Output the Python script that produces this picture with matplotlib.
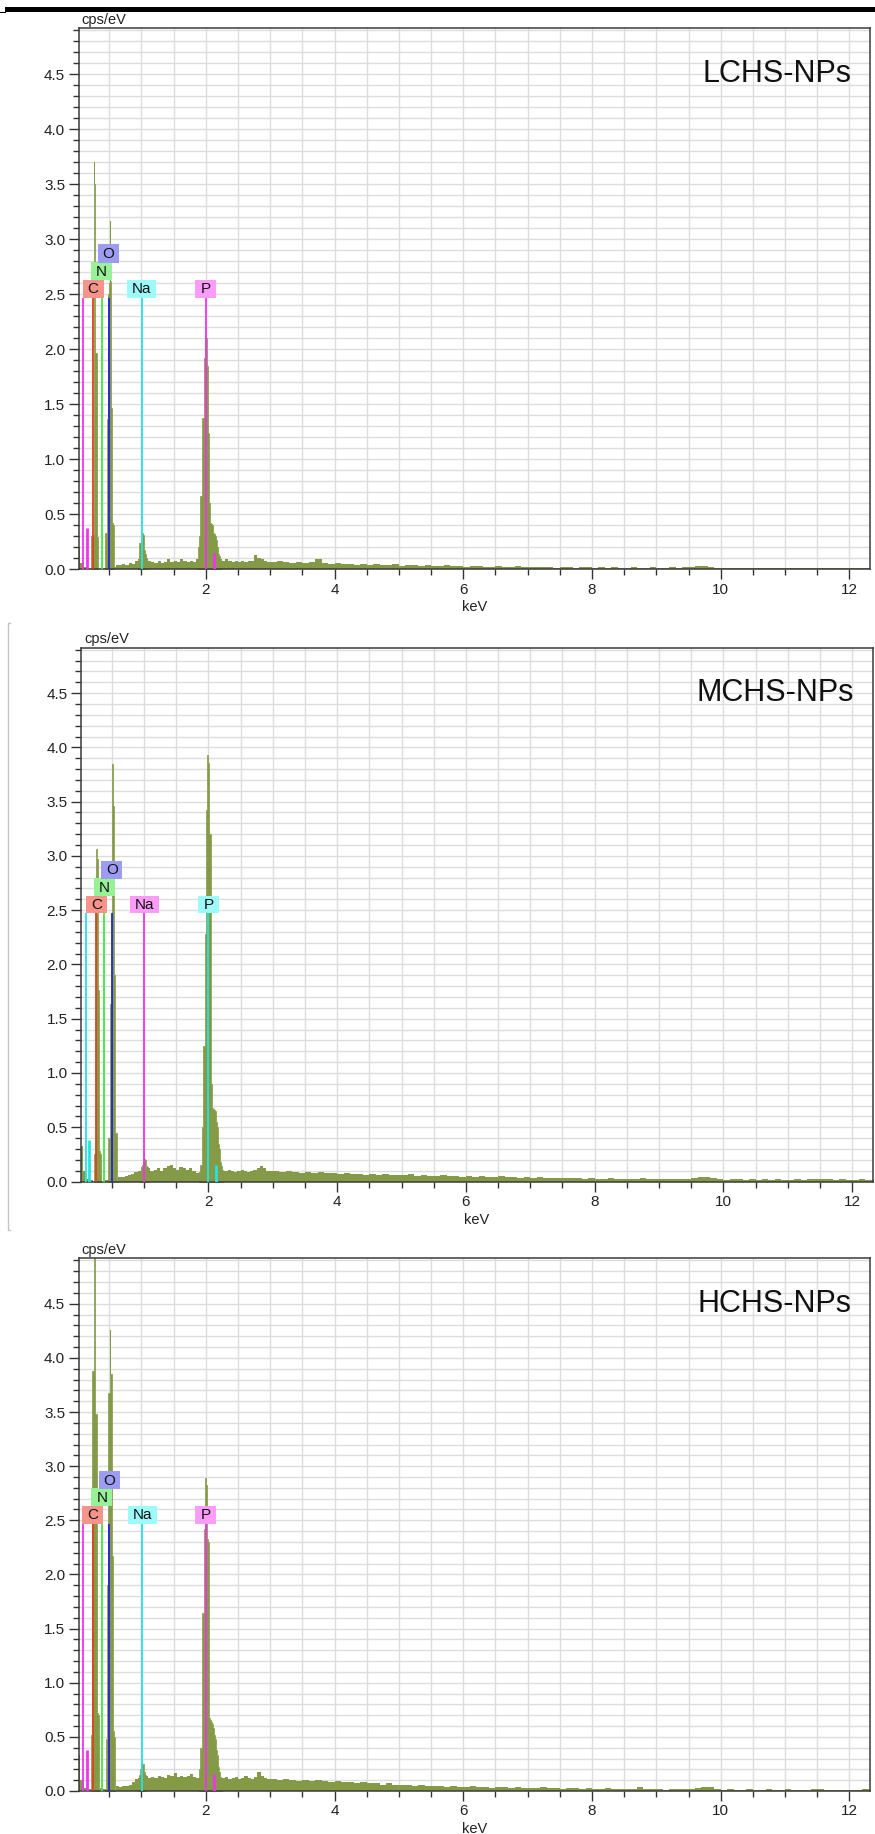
import numpy as np
import matplotlib
matplotlib.use('Agg')
import matplotlib.pyplot as plt
from matplotlib.patches import Rectangle
from matplotlib.lines import Line2D
from matplotlib.ticker import MultipleLocator, FormatStrFormatter

plt.rcParams['font.family'] = ['Liberation Sans', 'DejaVu Sans']

samples = ['LCHS-NPs', 'MCHS-NPs', 'HCHS-NPs']

# channel energies of the background trace (keV)
kev_low = np.arange(60) * 0.05          # 0.00 .. 2.95
kev_high = 3.0 + np.arange(94) * 0.1    # 3.0 .. 12.3

# ---- LCHS-NPs spectrum (cps/eV) ----
lchs_bg_low = [0.20, 0.06, 0.02, 0.01, 0.00, 0.00, 0.00, 0.01, 0.01, 0.00,
               0.00, 0.02, 0.04, 0.04, 0.05, 0.04, 0.06, 0.05, 0.08, 0.09,
               0.09, 0.09, 0.08, 0.07, 0.06, 0.08, 0.06, 0.07, 0.09, 0.07,
               0.08, 0.07, 0.09, 0.08, 0.07, 0.08, 0.07, 0.09, 0.09, 0.09,
               0.09, 0.09, 0.09, 0.09, 0.09, 0.08, 0.09, 0.08, 0.07, 0.08,
               0.07, 0.08, 0.07, 0.08, 0.08, 0.13, 0.10, 0.09, 0.08, 0.07]
lchs_bg_high = [0.07, 0.08, 0.07, 0.06, 0.07, 0.06, 0.07, 0.09, 0.06, 0.05,
                0.06, 0.05, 0.05, 0.04, 0.05, 0.04, 0.05, 0.04, 0.04, 0.05,
                0.03, 0.04, 0.04, 0.03, 0.04, 0.03, 0.03, 0.04, 0.03, 0.03,
                0.02, 0.03, 0.03, 0.02, 0.02, 0.03, 0.02, 0.02, 0.03, 0.02,
                0.02, 0.02, 0.02, 0.02, 0.01, 0.02, 0.02, 0.01, 0.02, 0.02,
                0.01, 0.02, 0.01, 0.02, 0.01, 0.01, 0.02, 0.01, 0.01, 0.02,
                0.01, 0.01, 0.02, 0.01, 0.02, 0.02, 0.03, 0.03, 0.02, 0.01,
                0.01, 0.01, 0.01, 0.01, 0.01, 0.01, 0.01, 0.01, 0.01, 0.01,
                0.01, 0.01, 0.01, 0.01, 0.01, 0.01, 0.01, 0.01, 0.01, 0.01,
                0.01, 0.01, 0.01, 0.01]
# peaks: (first channel keV, counts in 0.01 keV channels)
lchs_peaks = [
    (0.21, [0.00, 0.30, 0.30, 0.31, 0.31, 3.70, 3.50, 3.50, 1.97, 1.97, 0.30, 0.29, 0.00]),
    (0.43, [0.00, 0.33, 0.33, 0.33, 1.37, 1.37, 2.50, 2.60, 3.17, 2.62, 1.47, 1.47, 0.42, 0.42, 0.40, 0.00]),
    (0.95, [0.00, 0.14, 0.24, 0.24, 0.24, 0.24, 0.32, 0.33, 0.31, 0.25, 0.18, 0.14, 0.12, 0.10, 0.00]),
    (1.87, [0.00, 0.12, 0.20, 0.30, 0.30, 0.67, 0.67, 0.67, 1.38, 1.38, 1.92, 1.92, 1.90, 2.12,
            2.10, 1.87, 1.85, 1.24, 1.22, 0.60, 0.42, 0.42, 0.41, 0.40, 0.35, 0.33, 0.33, 0.32,
            0.30, 0.27, 0.27, 0.20, 0.15, 0.14, 0.12, 0.10, 0.00]),
]

# ---- MCHS-NPs spectrum ----
mchs_bg_low = [0.33, 0.10, 0.02, 0.01, 0.00, 0.00, 0.00, 0.00, 0.01, 0.00,
               0.00, 0.00, 0.04, 0.04, 0.05, 0.06, 0.07, 0.09, 0.10, 0.11,
               0.11, 0.12, 0.10, 0.11, 0.12, 0.10, 0.12, 0.14, 0.15, 0.12,
               0.11, 0.13, 0.12, 0.11, 0.12, 0.10, 0.08, 0.09, 0.10, 0.10,
               0.10, 0.10, 0.10, 0.10, 0.10, 0.10, 0.11, 0.10, 0.09, 0.10,
               0.11, 0.10, 0.09, 0.10, 0.11, 0.12, 0.14, 0.12, 0.10, 0.10]
mchs_bg_high = [0.10, 0.09, 0.10, 0.09, 0.08, 0.09, 0.08, 0.09, 0.08, 0.08,
                0.07, 0.08, 0.07, 0.07, 0.06, 0.07, 0.06, 0.07, 0.06, 0.06,
                0.06, 0.07, 0.05, 0.06, 0.05, 0.05, 0.06, 0.05, 0.05, 0.04,
                0.05, 0.04, 0.05, 0.04, 0.04, 0.05, 0.04, 0.04, 0.03, 0.04,
                0.03, 0.04, 0.03, 0.03, 0.03, 0.03, 0.03, 0.03, 0.02, 0.03,
                0.02, 0.02, 0.03, 0.02, 0.02, 0.02, 0.02, 0.03, 0.02, 0.02,
                0.02, 0.02, 0.02, 0.02, 0.02, 0.03, 0.04, 0.04, 0.03, 0.02,
                0.01, 0.02, 0.02, 0.01, 0.02, 0.01, 0.02, 0.01, 0.02, 0.01,
                0.01, 0.02, 0.01, 0.02, 0.02, 0.02, 0.02, 0.01, 0.02, 0.01,
                0.01, 0.02, 0.01, 0.01]
mchs_peaks = [
    (0.22, [0.00, 0.25, 0.25, 0.25, 3.06, 2.97, 2.97, 1.76, 1.76, 0.28, 0.25, 0.00]),
    (0.44, [0.00, 0.40, 0.40, 0.40, 1.64, 1.64, 3.30, 3.85, 3.46, 3.46, 1.90, 1.90, 0.45, 0.45, 0.42, 0.00]),
    (0.93, [0.00, 0.10, 0.12, 0.13, 0.14, 0.15, 0.18, 0.22, 0.21, 0.20, 0.17, 0.14, 0.13, 0.00]),
    (1.86, [0.00, 0.10, 0.15, 0.15, 0.30, 0.50, 1.25, 1.25, 1.25, 2.28, 2.28, 3.42, 3.42, 3.93,
            3.86, 3.86, 3.20, 3.20, 1.20, 0.90, 0.68, 0.67, 0.67, 0.66, 0.65, 0.65, 0.62, 0.55,
            0.50, 0.45, 0.35, 0.30, 0.22, 0.18, 0.14, 0.12, 0.11, 0.00]),
]

# ---- HCHS-NPs spectrum ----
hchs_bg_low = [0.33, 0.10, 0.03, 0.02, 0.02, 0.00, 0.00, 0.03, 0.02, 0.00,
               0.00, 0.00, 0.05, 0.04, 0.05, 0.05, 0.06, 0.08, 0.11, 0.12,
               0.13, 0.14, 0.12, 0.13, 0.12, 0.14, 0.13, 0.12, 0.15, 0.14,
               0.17, 0.13, 0.14, 0.13, 0.14, 0.16, 0.13, 0.12, 0.12, 0.12,
               0.12, 0.12, 0.12, 0.12, 0.12, 0.12, 0.13, 0.11, 0.12, 0.13,
               0.11, 0.12, 0.14, 0.12, 0.11, 0.13, 0.18, 0.14, 0.12, 0.11]
hchs_bg_high = [0.11, 0.10, 0.11, 0.10, 0.09, 0.10, 0.09, 0.10, 0.09, 0.08,
                0.09, 0.08, 0.08, 0.07, 0.08, 0.07, 0.07, 0.06, 0.07, 0.06,
                0.06, 0.06, 0.05, 0.06, 0.05, 0.05, 0.05, 0.04, 0.05, 0.04,
                0.04, 0.05, 0.04, 0.04, 0.03, 0.04, 0.04, 0.03, 0.04, 0.03,
                0.03, 0.03, 0.04, 0.03, 0.03, 0.02, 0.03, 0.03, 0.02, 0.03,
                0.02, 0.02, 0.03, 0.02, 0.02, 0.02, 0.02, 0.04, 0.02, 0.02,
                0.02, 0.01, 0.02, 0.02, 0.02, 0.02, 0.03, 0.04, 0.04, 0.02,
                0.01, 0.02, 0.01, 0.01, 0.02, 0.01, 0.01, 0.02, 0.01, 0.01,
                0.02, 0.01, 0.01, 0.01, 0.02, 0.02, 0.01, 0.01, 0.01, 0.01,
                0.01, 0.01, 0.02, 0.01]
hchs_peaks = [
    (0.21, [0.00, 0.52, 0.52, 3.88, 3.88, 3.88, 4.95, 4.95, 3.48, 3.48, 0.72, 0.72, 0.70, 0.00]),
    (0.44, [0.00, 0.48, 0.48, 1.90, 1.90, 3.68, 3.68, 4.26, 3.85, 3.85, 2.17, 2.17, 0.55, 0.55, 0.50, 0.00]),
    (0.95, [0.00, 0.12, 0.15, 0.18, 0.20, 0.26, 0.26, 0.25, 0.25, 0.22, 0.18, 0.15, 0.00]),
    (1.89, [0.00, 0.20, 0.40, 0.40, 0.40, 0.82, 1.64, 1.64, 2.42, 2.42, 2.42, 2.89, 2.83, 2.33,
            2.33, 2.30, 1.30, 0.67, 0.66, 0.65, 0.64, 0.62, 0.60, 0.58, 0.55, 0.52, 0.48, 0.43,
            0.38, 0.33, 0.28, 0.22, 0.18, 0.15, 0.13, 0.12, 0.00]),
]

# element marker lines (keV)
lchs_lines = {'C': 0.25, 'N': 0.38, 'O': 0.49, 'Na': 1.005, 'P': 2.00}
mchs_lines = {'C': 0.26, 'N': 0.385, 'O': 0.50, 'Na': 1.00, 'P': 2.00}
hchs_lines = {'C': 0.245, 'N': 0.384, 'O': 0.497, 'Na': 1.01, 'P': 2.00}
# minor (unlabelled) lines: keV, height
lchs_minor = [(0.093, 2.47), (0.15, 0.38), (2.12, 0.15)]
mchs_minor = [(0.096, 2.47), (0.148, 0.38), (2.11, 0.15)]
hchs_minor = [(0.098, 2.47), (0.155, 0.38), (2.12, 0.16)]

olive = '#849a46'
line_col = {'C': '#e2401f', 'N': '#3fe83f', 'O': '#2424d8',
            'cyan': '#22e4e4', 'magenta': '#f530f0'}
box_col = {'C': '#f6938b', 'N': '#97f197', 'O': '#9c9cf2',
           'cyan': '#9cfafa', 'magenta': '#fa9cf8'}

# (left, top, width, height) in figure pixels, top-left origin
W, H = 875, 1834
panels = [
    (samples[0], lchs_bg_low, lchs_bg_high, lchs_peaks, lchs_lines, lchs_minor, 'cyan', 'magenta',
     (78.7, 28.3, 791.3, 541.0)),
    (samples[1], mchs_bg_low, mchs_bg_high, mchs_peaks, mchs_lines, mchs_minor, 'magenta', 'cyan',
     (81.3, 647.5, 791.4, 534.0)),
    (samples[2], hchs_bg_low, hchs_bg_high, hchs_peaks, hchs_lines, hchs_minor, 'cyan', 'magenta',
     (78.7, 1258.3, 791.3, 532.7)),
]

fig = plt.figure(figsize=(W / 100, H / 100), dpi=100)

for name, bg_low, bg_high, peaks, lines, minor, na_c, p_c, (px, py, pw, ph) in panels:
    ax = fig.add_axes([px / W, 1 - (py + ph) / H, pw / W, ph / H])
    ax.set_xlim(0.025, 12.32)
    ax.set_ylim(0, 4.92)

    # background trace
    kev = np.concatenate([kev_low, kev_high, [12.4]])
    cps = np.concatenate([bg_low, bg_high, [bg_high[-1]]])
    ax.fill_between(kev, cps, step='post', color=olive, lw=0, zorder=2)
    # peak channels (thin edge keeps single channels visible)
    for start, counts in peaks:
        e = start + 0.01 * np.arange(len(counts))
        ax.fill_between(e, counts, step='mid', facecolor=olive, edgecolor=olive,
                        lw=0.5, zorder=2)

    cols = {'C': 'C', 'N': 'N', 'O': 'O', 'Na': na_c, 'P': p_c}
    # short unlabelled lines share the P colour
    for k, (e, h) in enumerate(minor):
        ax.vlines(e, 0, h, colors=line_col[p_c], lw=1.3 if k == 0 else 2.0, zorder=3)
    for el, e in lines.items():
        ax.vlines(e, 0, 2.47, colors=line_col[cols[el]], lw=1.3, zorder=3)

    # label boxes, stacked for C / N / O
    box_y = {'C': 2.47, 'N': 2.63, 'O': 2.79, 'Na': 2.47, 'P': 2.47}
    for el in ['C', 'N', 'O', 'Na', 'P']:
        bw = (29 if el == 'Na' else 21) / 64.36
        bh = 0.165
        x0 = lines[el] - bw / 2
        ax.add_patch(Rectangle((x0, box_y[el]), bw, bh, facecolor=box_col[cols[el]],
                               edgecolor='none', zorder=4))
        ax.text(lines[el], box_y[el] + bh / 2 - 0.005, el, ha='center', va='center',
                fontsize=11, color='#111111', zorder=5)

    ax.text(0.976, 0.915, name, transform=ax.transAxes, ha='right', va='center',
            fontsize=22, color='#111111', zorder=5)

    # ticks and grid
    ax.xaxis.set_major_locator(MultipleLocator(2))
    ax.xaxis.set_minor_locator(MultipleLocator(0.5))
    ax.yaxis.set_major_locator(MultipleLocator(0.5))
    ax.yaxis.set_minor_locator(MultipleLocator(0.1))
    ax.yaxis.set_major_formatter(FormatStrFormatter('%.1f'))
    ax.xaxis.set_major_formatter(FormatStrFormatter('%d'))
    ax.tick_params(which='major', direction='out', length=7.2, width=1.0,
                   color='#333333', labelsize=11, labelcolor='#222222', pad=2.5)
    ax.tick_params(which='minor', direction='out', length=4.3, width=1.0, color='#333333')
    ax.set_axisbelow(True)
    ax.grid(True, which='both', color='#dcdcdc', lw=1.0)
    for sp in ax.spines.values():
        sp.set_color('#3a3a3a')
        sp.set_linewidth(1.1)

    ax.annotate('cps/eV', xy=(0, 1), xycoords='axes fraction', xytext=(2.2, 0.8),
                textcoords='offset points', ha='left', va='bottom', fontsize=10.5,
                color='#222222')
    ax.annotate('keV', xy=(0.5, 0), xycoords='axes fraction', xytext=(0, -27.5),
                textcoords='offset points', ha='center', va='center', fontsize=10.5,
                color='#222222')

# black rule across the top
fig.patches.append(Rectangle((5 / W, 1 - 12 / H), 1, 4.7 / H, transform=fig.transFigure,
                             facecolor='black', edgecolor='none'))
fig.patches.append(Rectangle((0, 1 - 13.3 / H), 6 / W, 1.6 / H, transform=fig.transFigure,
                             facecolor='black', edgecolor='none'))
# thin grey frame edge beside the middle panel
fig.lines.append(Line2D([10 / W, 8 / W, 8 / W, 10 / W],
                        [1 - 623 / H, 1 - 623 / H, 1 - 1230 / H, 1 - 1230 / H],
                        transform=fig.transFigure, color='#c4c4c4', lw=1.0))

fig.savefig('out.png', dpi=100)
